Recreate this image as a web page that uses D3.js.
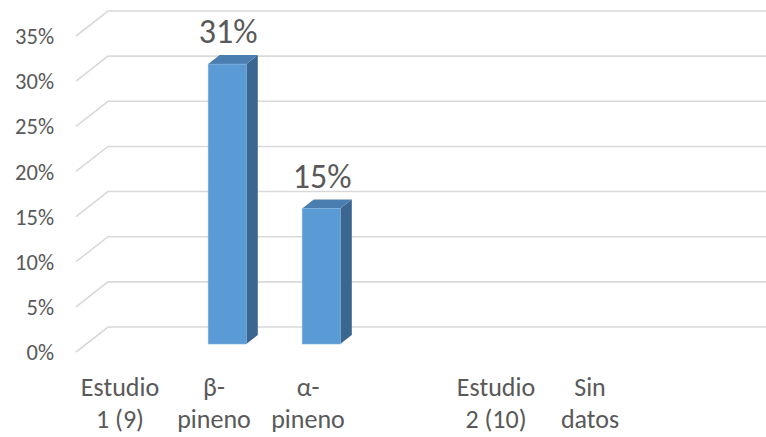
<!DOCTYPE html>
<html>
<head>
<meta charset="utf-8">
<script src="https://cdn.jsdelivr.net/npm/d3@7"></script>
<style>
  html, body { margin: 0; padding: 0; background: #ffffff; }
  svg { display: block; }
  text { font-family: Carlito, Calibri, Lato, sans-serif; fill: #595959; }
</style>
</head>
<body>
<svg id="chart" width="766" height="437"></svg>
<script>
// ---- data ----
const categories = ["Estudio\n1 (9)", "β-\npineno", "α-\npineno", "", "Estudio\n2 (10)", "Sin\ndatos", ""];
const values = [null, 0.31, 0.15, null, null, null, null];
const valueLabels = ["", "31%", "15%", "", "", "", ""];
const yTicks = [0, 0.05, 0.10, 0.15, 0.20, 0.25, 0.30, 0.35];
const yTickLabels = ["0%", "5%", "10%", "15%", "20%", "25%", "30%", "35%"];

// ---- layout ----
const W = 766, H = 437;
const front = { left: 76, right: 734, bottom: 352, top: 36 };
const depth = { dx: 32, dy: -25 };        // floor depth offset (front -> back wall)
const barDepth = [0.32, 0.68];            // bar occupies this fraction of depth
const colors = { front: "#5B9BD5", side: "#3A6690", top: "#4A7DB0", grid: "#D9D9D9" };

const svg = d3.select("#chart");

const x = d3.scaleBand()
  .domain(d3.range(categories.length))
  .range([front.left, front.right]);

const y = d3.scaleLinear()
  .domain([0, 0.35])
  .range([front.bottom, front.top]);

// gridlines: diagonal on side wall + horizontal on back wall
const grid = svg.append("g");
grid.selectAll("path.g")
  .data(yTicks)
  .join("path")
  .attr("fill", "none")
  .attr("stroke", colors.grid)
  .attr("stroke-width", 1.6)
  .attr("d", t => {
    const yf = y(t);
    return `M${front.left},${yf} L${front.left + depth.dx},${yf + depth.dy} L${front.right + depth.dx},${yf + depth.dy}`;
  });

// y tick labels
svg.append("g").selectAll("text")
  .data(yTicks)
  .join("text")
  .attr("x", 54)
  .attr("y", t => y(t))
  .attr("dy", "0.36em")
  .attr("text-anchor", "end")
  .attr("font-size", 22.5)
  .text((t, i) => yTickLabels[i]);

// bars (3D boxes)
const barW = x.bandwidth() * 0.405;
const bars = svg.append("g");
categories.forEach((c, i) => {
  const v = values[i];
  if (v == null) return;
  const cx = x(i) + x.bandwidth() / 2;
  const ox = depth.dx * barDepth[0], oy = depth.dy * barDepth[0];
  const sx = depth.dx * (barDepth[1] - barDepth[0]), sy = depth.dy * (barDepth[1] - barDepth[0]);
  const x0 = cx - barW / 2 + ox, x1 = cx + barW / 2 + ox;
  const yb = y(0) + oy, yt = y(v) + oy;
  const g = bars.append("g");
  // side face
  g.append("path")
    .attr("d", `M${x1},${yb} L${x1 + sx},${yb + sy} L${x1 + sx},${yt + sy} L${x1},${yt} Z`)
    .attr("fill", colors.side);
  // top face
  g.append("path")
    .attr("d", `M${x0},${yt} L${x0 + sx},${yt + sy} L${x1 + sx},${yt + sy} L${x1},${yt} Z`)
    .attr("fill", colors.top);
  // front face
  g.append("rect")
    .attr("x", x0).attr("y", yt)
    .attr("width", x1 - x0).attr("height", yb - yt)
    .attr("fill", colors.front)
    .attr("stroke", "#7FB1DE").attr("stroke-width", 0.6);
  // value label
  g.append("text")
    .attr("x", (x0 + x1) / 2 + 1)
    .attr("y", yt + sy - 12)
    .attr("text-anchor", "middle")
    .attr("font-size", 34)
    .attr("fill", "#404040")
    .text(valueLabels[i]);
});

// x category labels (two lines)
const xl = svg.append("g");
categories.forEach((c, i) => {
  if (!c) return;
  const lines = c.split("\n");
  const t = xl.append("text")
    .attr("text-anchor", "middle")
    .attr("font-size", 26);
  lines.forEach((ln, j) => {
    t.append("tspan")
      .attr("x", x(i) + x.bandwidth() / 2 - 3)
      .attr("y", 396 + j * 32)
      .text(ln);
  });
});
</script>
</body>
</html>
